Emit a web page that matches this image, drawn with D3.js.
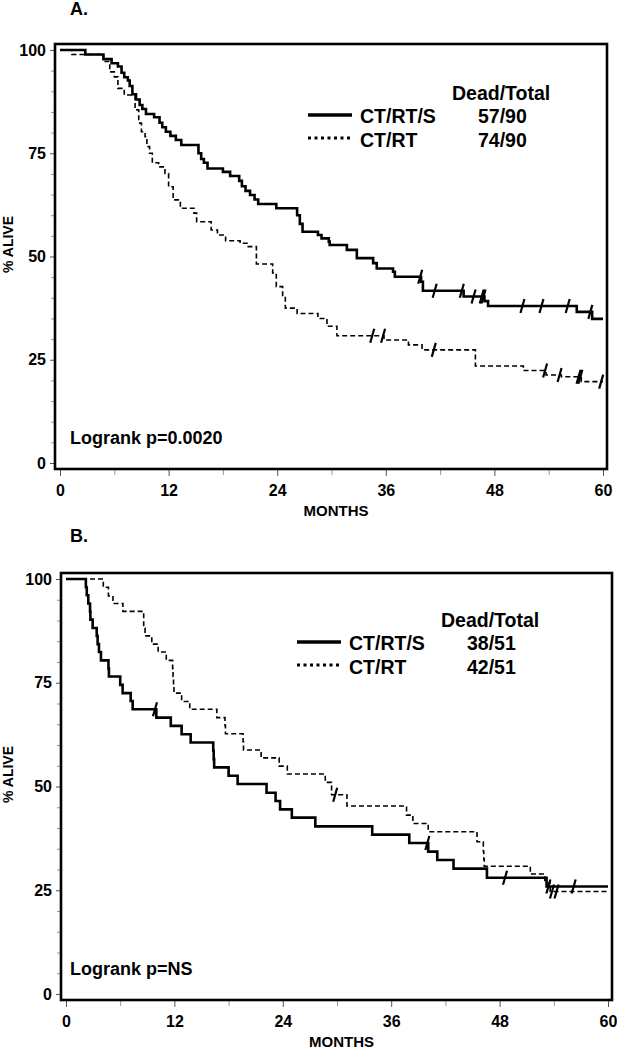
<!DOCTYPE html>
<html>
<head>
<meta charset="utf-8">
<style>
body { margin: 0; background: #fff; }
text { font-family: "Liberation Sans", Arial, sans-serif; font-weight: bold; fill: #000; }
</style>
</head>
<body>
<svg id="chart" width="617" height="1049"></svg>
<script src="https://d3js.org/d3.v7.min.js"></script>
<script>
// each pair is [month, % alive] where the curve steps down
var aSurgery = [[0,100],[2.8,98.9],[4.8,97.8],[5.7,96.8],[6.4,96.0],[6.8,94.5],[7.1,93.4],[7.5,92.6],[7.7,91.3],
  [8.0,89.3],[8.4,88.0],[8.8,86.7],[9.1,85.7],[9.5,84.5],[10.4,83.7],[11.0,82.4],[11.3,81.3],[11.7,80.2],
  [12.2,79.2],[12.8,78.2],[13.4,77.0],[15.3,75.0],[15.6,73.6],[15.9,72.7],[16.3,71.3],[18.0,70.5],[18.8,69.5],
  [19.8,68.3],[20.1,67.0],[20.5,65.9],[21.0,64.9],[21.5,63.8],[21.9,62.7],[23.9,61.7],[26.2,60.0],[26.5,57.9],
  [26.8,56.0],[28.5,55.2],[28.9,54.4],[29.7,53.6],[29.8,52.8],[31.7,51.6],[32.8,49.6],[34.6,48.4],[35.0,47.1],
  [36.8,46.3],[37.0,45.1],[39.9,43.9],[40.1,41.7],[44.6,40.3],[46.9,39.2],[47.3,38.0],[57.1,36.6],[58.8,34.9]];
var aSurgeryCensor = [39.8, 41.4, 44.4, 45.7, 46.6, 46.8, 51.1, 53.2, 56.1, 58.6];

var aNoSurgery = [[0,100],[1.3,98.9],[4.8,97.2],[5.5,94.7],[6.0,93.5],[6.4,90.7],[7.1,89.1],[8.3,85.5],[8.7,82.3],
  [9.0,80.2],[9.4,79.0],[9.6,76.6],[9.9,75.0],[10.2,72.7],[10.9,71.7],[11.6,70.1],[12.0,66.9],[12.5,63.7],
  [13.3,61.7],[14.8,60.5],[15.1,58.4],[16.7,56.4],[17.4,55.2],[18.3,53.8],[19.9,53.2],[20.8,52.4],[21.7,48.2],
  [23.5,46.0],[23.9,42.7],[24.6,40.3],[24.9,37.5],[26.2,36.2],[28.5,35.0],[29.5,33.1],[30.6,30.8],[35.8,29.8],
  [38.5,28.6],[40.0,27.4],[45.9,23.5],[51.2,22.4],[53.7,21.3],[55.4,20.9],[57.6,19.7]];
var aNoSurgeryCensor = [34.5, 35.7, 41.3, 53.6, 55.2, 57.3, 57.5, 59.8];

var bSurgery = [[0,100],[2.2,98.0],[2.3,96.1],[2.47,94.1],[2.66,92.2],[2.7,90.2],[2.95,88.2],[3.4,86.3],[3.5,84.3],
  [3.65,82.4],[3.87,80.4],[4.7,78.4],[4.75,76.5],[6.0,74.5],[6.27,72.5],[7.16,70.6],[7.38,68.6],[10.0,66.6],
  [11.6,64.6],[12.8,62.6],[13.8,60.6],[16.3,58.6],[16.35,56.6],[16.4,54.6],[18.0,52.6],[19.0,50.6],[22.2,48.5],
  [23.2,46.5],[23.7,44.5],[25.0,42.5],[27.6,40.4],[33.9,38.4],[38.0,36.4],[40.1,34.3],[41.1,32.3],[42.9,30.2],
  [46.6,28.0],[53.2,25.9]];
var bSurgeryCensor = [9.85, 40.0, 48.6, 53.4, 56.2];

var bNoSurgery = [[0,100],[4.13,98.0],[4.7,95.9],[5.2,94.1],[6.3,92.2],[8.6,88.2],[8.75,86.3],[9.5,84.3],[10.2,82.4],
  [11.1,80.4],[11.8,78.4],[11.85,76.5],[11.9,74.5],[11.95,72.5],[12.8,70.5],[13.7,68.6],[16.7,66.6],[17.6,64.7],
  [17.65,62.7],[19.6,60.8],[19.65,58.8],[21.6,56.9],[23.6,54.9],[24.5,53.0],[28.7,51.0],[29.4,48.0],[31.1,45.3],
  [37.7,43.1],[38.4,41.1],[40.1,39.1],[45.5,36.7],[46.2,34.3],[46.25,32.5],[46.3,30.8],[51.4,28.9],[53.0,26.7],
  [53.6,24.7]];
var bNoSurgeryCensor = [29.8, 53.8, 54.3];

var groups = ["CT/RT/S", "CT/RT"];
var aDeadTotal = ["57/90", "74/90"];
var bDeadTotal = ["38/51", "42/51"];
var monthTicks = [0, 12, 24, 36, 48, 60];
var monthMinor = [6, 18, 30, 42, 54];
var aliveTicks = [0, 25, 50, 75, 100];
var aliveMinor = d3.range(5, 100, 5).filter(function(d) { return d % 25 !== 0; });

var svg = d3.select("#chart");

function survAt(ev, m) {
  var v = 100;
  ev.forEach(function(d) { if (d[0] <= m) v = d[1]; });
  return v;
}

function drawPanel(p) {
  var x = d3.scaleLinear().domain([0, 60]).range([p.left, p.right]);
  var y = d3.scaleLinear().domain([0, 100]).range([p.bottom, p.top]);
  var fx = p.left - 5, fy = p.top - 6, fr = p.right + 4, fb = p.bottom + 6;

  var line = d3.line()
      .curve(d3.curveStepAfter)
      .x(function(d) { return x(d[0]); })
      .y(function(d) { return y(d[1]); });

  // minor ticks
  svg.append("g")
      .attr("transform", "translate(" + fx + ",0)")
      .call(d3.axisLeft(y).tickValues(aliveMinor).tickSize(4).tickFormat(""))
      .call(function(g) { g.select(".domain").remove(); g.selectAll("line").attr("stroke", "#999"); });
  svg.append("g")
      .attr("transform", "translate(0," + fb + ")")
      .call(d3.axisBottom(x).tickValues(monthMinor).tickSize(6).tickFormat(""))
      .call(function(g) { g.select(".domain").remove(); g.selectAll("line").attr("stroke", "#999"); });

  // y axis
  svg.append("g")
      .attr("transform", "translate(" + fx + ",0)")
      .call(d3.axisLeft(y).tickValues(aliveTicks).tickSize(5).tickPadding(4))
      .call(function(g) {
        g.select(".domain").remove();
        g.selectAll("line").attr("stroke", "#555");
        g.selectAll("text").attr("font-size", 16).attr("font-family", null);
      });

  // x axis
  svg.append("g")
      .attr("transform", "translate(0," + fb + ")")
      .call(d3.axisBottom(x).tickValues(monthTicks).tickSize(7).tickPadding(9))
      .call(function(g) {
        g.select(".domain").remove();
        g.selectAll("line").attr("stroke", "#555");
        g.selectAll("text").attr("font-size", 16).attr("font-family", null);
      });

  svg.append("text")
      .attr("x", (fx + fr) / 2 + 5)
      .attr("y", fb + 47)
      .attr("text-anchor", "middle")
      .attr("font-size", 15)
      .text("MONTHS");

  svg.append("text")
      .attr("transform", "translate(13," + ((fy + fb) / 2 - 12) + ") rotate(-90)")
      .attr("text-anchor", "middle")
      .attr("font-size", 14)
      .text("% ALIVE");

  svg.append("text")
      .attr("x", 70)
      .attr("y", p.titleY)
      .attr("font-size", 18)
      .text(p.title);

  // survival curves
  svg.append("path")
      .datum(p.dashed.concat([[60, p.dashed[p.dashed.length - 1][1]]]))
      .attr("fill", "none")
      .attr("stroke", "#000")
      .attr("stroke-width", 1.6)
      .attr("stroke-dasharray", "5,3")
      .attr("d", line);

  svg.append("path")
      .datum(p.solid.concat([[60, p.solid[p.solid.length - 1][1]]]))
      .attr("fill", "none")
      .attr("stroke", "#000")
      .attr("stroke-width", 2.6)
      .attr("d", line);

  // censor marks
  function censor(months, ev) {
    svg.append("g").selectAll("line")
        .data(months)
      .enter().append("line")
        .attr("x1", function(d) { return x(d) - 2; })
        .attr("x2", function(d) { return x(d) + 2; })
        .attr("y1", function(d) { return y(survAt(ev, d)) + 7; })
        .attr("y2", function(d) { return y(survAt(ev, d)) - 7; })
        .attr("stroke", "#000")
        .attr("stroke-width", 2.2);
  }
  censor(p.solidCensor, p.solid);
  censor(p.dashedCensor, p.dashed);

  // frame
  svg.append("rect")
      .attr("x", fx)
      .attr("y", fy)
      .attr("width", fr - fx)
      .attr("height", fb - fy)
      .attr("fill", "none")
      .attr("stroke", "#000")
      .attr("stroke-width", 2.6);

  // legend
  var lg = svg.append("g");
  lg.append("text").attr("x", p.legX + 144).attr("y", p.legY).attr("font-size", 19.5).text("Dead/Total");
  lg.append("line")
      .attr("x1", p.legX).attr("x2", p.legX + 44)
      .attr("y1", p.legY + 15).attr("y2", p.legY + 15)
      .attr("stroke", "#000").attr("stroke-width", 3.4);
  lg.append("line")
      .attr("x1", p.legX).attr("x2", p.legX + 43)
      .attr("y1", p.legY + 38).attr("y2", p.legY + 38)
      .attr("stroke", "#000").attr("stroke-width", 3).attr("stroke-dasharray", "3,3.5");
  lg.selectAll(".grp")
      .data(groups)
    .enter().append("text")
      .attr("x", p.legX + 52)
      .attr("y", function(d, i) { return p.legY + 23 + i * 24; })
      .attr("font-size", 19.5)
      .text(function(d) { return d; });
  lg.selectAll(".cnt")
      .data(p.deadTotal)
    .enter().append("text")
      .attr("x", p.legX + 170)
      .attr("y", function(d, i) { return p.legY + 23 + i * 24; })
      .attr("font-size", 19.5)
      .text(function(d) { return d; });

  svg.append("text")
      .attr("x", 70)
      .attr("y", fb - 25)
      .attr("font-size", 18)
      .text(p.logrank);
}

drawPanel({
  title: "A.", titleY: 15,
  left: 60, right: 603, top: 50, bottom: 463,
  solid: aSurgery, solidCensor: aSurgeryCensor,
  dashed: aNoSurgery, dashedCensor: aNoSurgeryCensor,
  deadTotal: aDeadTotal, legX: 308, legY: 100,
  logrank: "Logrank p=0.0020"
});

drawPanel({
  title: "B.", titleY: 542,
  left: 66, right: 608, top: 579, bottom: 994,
  solid: bSurgery, solidCensor: bSurgeryCensor,
  dashed: bNoSurgery, dashedCensor: bNoSurgeryCensor,
  deadTotal: bDeadTotal, legX: 297, legY: 627,
  logrank: "Logrank p=NS"
});
</script>
</body>
</html>
